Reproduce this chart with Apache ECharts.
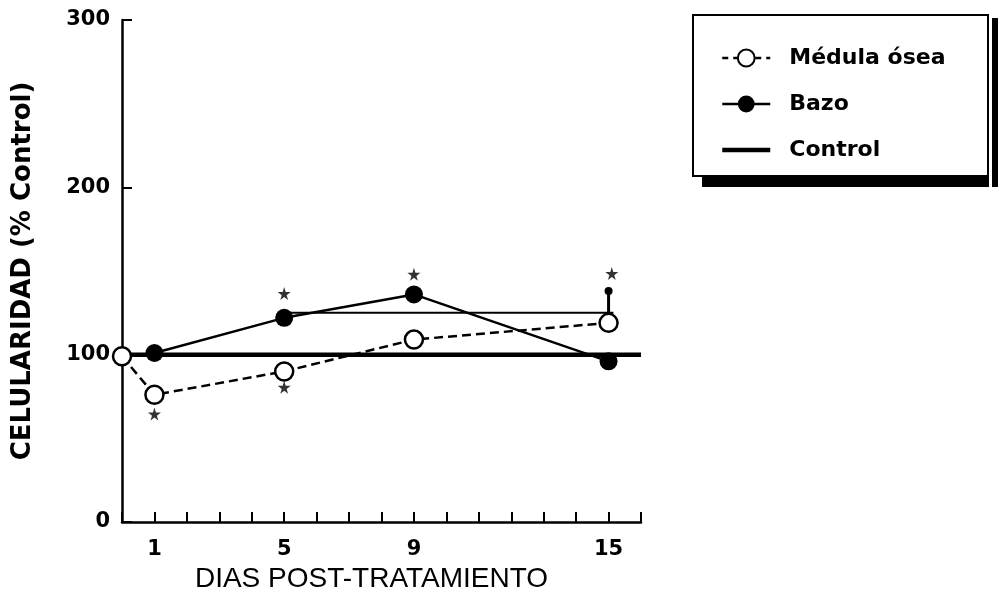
<!DOCTYPE html>
<html>
<head>
<meta charset="utf-8">
<script src="https://cdn.jsdelivr.net/npm/echarts@6/dist/echarts.min.js"></script>
<style>
html,body{margin:0;padding:0;background:#fff;}
#chart{width:1000px;height:598px;}
</style>
</head>
<body>
<div id="chart"></div>
<script>
// ---- data ----
const medulaDays = [0, 1, 5, 9, 15];
const medula = [99, 76, 90, 109, 119];
const bazoDays = [1, 5, 9, 15];
const bazo = [101, 122, 136, 96];
const controlDays = [0, 16];
const control = [100, 100];
const bracketDays = [5, 15.15];
const bracketValue = [125, 125];
const errorDay = 15;
const errorLow = 119;
const errorHigh = 138;
const starDays = [1, 5, 5, 9, 15.1];
const starValues = [64.5, 136.5, 80.5, 148, 148.5];
const xTickLabels = [1, 5, 9, 15];
const yTicks = [0, 100, 200, 300];

const BOLD = 'DejaVu Sans';
const starPath = 'path://M50,0 L61,35 L98,35 L68,57 L79,91 L50,70 L21,91 L32,57 L2,35 L39,35 Z';

const zip = (xs, ys) => xs.map((x, i) => [x, ys[i]]);

const chart = echarts.init(document.getElementById('chart'), null, {renderer: 'canvas'});
chart.setOption({
  backgroundColor: '#fff',
  animation: false,
  grid: {left: 122, top: 20, width: 519, height: 503, containLabel: false},
  xAxis: {
    type: 'value', min: 0, max: 16, interval: 1,
    name: 'DIAS POST-TRATAMIENTO',
    nameLocation: 'middle', nameGap: 43,
    nameTextStyle: {fontFamily: 'Liberation Sans', fontSize: 28, color: '#000', padding: [0, 20, 0, 0]},
    axisLine: {lineStyle: {color: '#000', width: 2.5}},
    axisTick: {inside: true, length: 10, lineStyle: {color: '#000', width: 2}},
    splitLine: {show: false},
    axisLabel: {
      margin: 17, color: '#000', fontFamily: BOLD, fontWeight: 'bold', fontSize: 21,
      formatter: v => (xTickLabels.indexOf(v) >= 0 ? String(v) : '')
    }
  },
  yAxis: {
    type: 'value', min: 0, max: 300, interval: 100,
    name: 'CELULARIDAD (% Control)',
    nameLocation: 'middle', nameRotate: 90, nameGap: 86,
    nameTextStyle: {fontFamily: BOLD, fontWeight: 'bold', fontSize: 26, color: '#000'},
    axisLine: {show: true, lineStyle: {color: '#000', width: 2.5}},
    axisTick: {show: true, inside: true, length: 10, lineStyle: {color: '#000', width: 2}},
    splitLine: {show: false},
    axisLabel: {
      margin: 12, color: '#000', fontFamily: BOLD, fontWeight: 'bold', fontSize: 21,
      formatter: v => (yTicks.indexOf(v) >= 0 ? String(v) : '')
    }
  },
  legend: {
    data: [
      {name: 'Médula ósea', lineStyle: {width: 2.5, type: [6, 5], color: '#000'}},
      {name: 'Bazo', lineStyle: {width: 2.5, color: '#000'}},
      {name: 'Control', itemStyle: {opacity: 0, color: 'rgba(0,0,0,0)', borderWidth: 0},
        lineStyle: {width: 4.5, color: '#000'}}
    ],
    orient: 'vertical', left: 715, top: 42, itemGap: 24,
    itemWidth: 48, itemHeight: 21,
    textStyle: {fontFamily: BOLD, fontWeight: 'bold', fontSize: 22, color: '#000', padding: [0, 0, 0, 14]},
    selectedMode: false
  },
  graphic: [
    {type: 'rect', shape: {x: 693, y: 15, width: 295, height: 161}, style: {fill: 'none', stroke: '#000', lineWidth: 2}, z: -1},
    {type: 'rect', shape: {x: 702, y: 175, width: 287, height: 12}, style: {fill: '#000'}},
    {type: 'rect', shape: {x: 992, y: 18, width: 6, height: 169}, style: {fill: '#000'}}
  ],
  series: [
    {
      name: 'Control', type: 'line', data: zip(controlDays, control),
      symbol: 'none', lineStyle: {color: '#000', width: 4.5}, itemStyle: {color: '#000'}, z: 1
    },
    {
      name: 'bracket', type: 'line', data: zip(bracketDays, bracketValue),
      symbol: 'none', lineStyle: {color: '#000', width: 2}, z: 2
    },
    {
      name: 'error', type: 'line',
      data: [{value: [errorDay, errorLow], symbolSize: 0}, {value: [errorDay, errorHigh], symbolSize: 8}],
      symbol: 'circle', showSymbol: true, itemStyle: {color: '#000'},
      lineStyle: {color: '#000', width: 3}, z: 2
    },
    {
      name: 'Bazo', type: 'line', data: zip(bazoDays, bazo),
      symbol: 'circle', symbolSize: 18, showSymbol: true,
      itemStyle: {color: '#000'}, lineStyle: {color: '#000', width: 2.5}, z: 3
    },
    {
      name: 'Médula ósea', type: 'line', data: zip(medulaDays, medula),
      symbol: 'circle', symbolSize: 18, showSymbol: true,
      itemStyle: {color: '#fff', borderColor: '#000', borderWidth: 2.5},
      lineStyle: {color: '#000', width: 2.5, type: [9, 5]}, z: 4
    },
    {
      name: 'stars', type: 'scatter', data: zip(starDays, starValues),
      symbol: starPath, symbolSize: 13, itemStyle: {color: '#000'}, z: 5
    }
  ]
});
</script>
</body>
</html>
